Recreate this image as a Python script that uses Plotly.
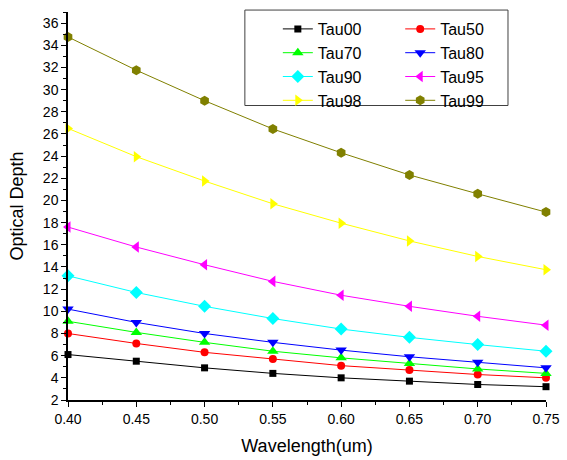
import plotly.graph_objects as go

wavelength = [0.40, 0.45, 0.50, 0.55, 0.60, 0.65, 0.70, 0.75]

tau00 = [6.1, 5.5, 4.9, 4.4, 4.0, 3.7, 3.4, 3.2]
tau50 = [8.0, 7.1, 6.3, 5.7, 5.1, 4.7, 4.3, 4.0]
tau70 = [9.1, 8.1, 7.2, 6.4, 5.8, 5.3, 4.8, 4.4]
tau80 = [10.2, 9.0, 8.0, 7.2, 6.5, 5.9, 5.4, 4.9]
tau90 = [13.2, 11.7, 10.45, 9.35, 8.4, 7.65, 7.0, 6.4]
tau95 = [17.6, 15.8, 14.2, 12.7, 11.45, 10.45, 9.55, 8.75]
tau98 = [26.5, 23.95, 21.75, 19.7, 17.95, 16.35, 14.95, 13.75]
tau99 = [34.75, 31.75, 29.0, 26.45, 24.3, 22.3, 20.6, 18.95]

series_names = ["Tau00", "Tau50", "Tau70", "Tau80", "Tau90", "Tau95", "Tau98", "Tau99"]
series_values = [tau00, tau50, tau70, tau80, tau90, tau95, tau98, tau99]
colors = ["#000000", "#FF0000", "#00FF00", "#0000FF", "#00FFFF", "#FF00FF", "#FFFF00", "#808000"]
symbols = ["square", "circle", "triangle-up", "triangle-down", "diamond",
           "triangle-left", "triangle-right", "hexagon"]
sizes = [7, 8, 10, 10, 10, 10, 10, 10]
# legend column for each series (two-column legend like the original)
legend_ids = ["legend", "legend2", "legend", "legend2", "legend", "legend2", "legend", "legend2"]

fig = go.Figure()
for name, vals, c, s, sz, lg in zip(series_names, series_values, colors, symbols, sizes, legend_ids):
    fig.add_trace(go.Scatter(
        x=wavelength, y=vals, name=name, mode="lines+markers",
        line=dict(color=c, width=1),
        marker=dict(symbol=s, size=sz, color=c, line=dict(width=0)),
        cliponaxis=False, legend=lg,
    ))

font_family = "Liberation Sans, Arial, sans-serif"
legend_common = dict(
    orientation="v", yanchor="top", xanchor="left",
    bgcolor="rgba(0,0,0,0)", borderwidth=0,
    font=dict(size=16, family=font_family, color="black"),
    tracegroupgap=0,
)
fig.update_layout(
    width=567, height=460,
    margin=dict(l=68, r=21, t=12, b=60, autoexpand=False),
    paper_bgcolor="white", plot_bgcolor="white",
    font=dict(family=font_family, color="black", size=14),
    showlegend=True,
    legend=dict(x=0.439, y=1.0, **legend_common),
    legend2=dict(x=0.695, y=1.0, **legend_common),
    shapes=[dict(
        type="rect", xref="paper", yref="paper",
        x0=0.370, x1=0.9205, y0=0.759, y1=1.005,
        line=dict(color="#404040", width=1), fillcolor="white", layer="above",
    )],
    xaxis=dict(
        range=[0.40, 0.75], dtick=0.05, tick0=0.40, tickformat=".2f",
        showgrid=False, zeroline=False, showline=True, linecolor="black", linewidth=1.5,
        ticks="outside", ticklen=5, tickwidth=1.2, tickcolor="black",
        minor=dict(dtick=0.025, ticks="outside", ticklen=3, tickwidth=1, tickcolor="black"),
        tickfont=dict(size=14), automargin=False,
        title=dict(text="Wavelength(um)", font=dict(size=18), standoff=14),
    ),
    yaxis=dict(
        range=[2, 37], dtick=2, tick0=2,
        showgrid=False, zeroline=False, showline=True, linecolor="black", linewidth=1.5,
        ticks="outside", ticklen=5, tickwidth=1.2, tickcolor="black",
        minor=dict(dtick=1, ticks="outside", ticklen=3, tickwidth=1, tickcolor="black"),
        tickfont=dict(size=14), automargin=False,
        title=dict(text="Optical Depth", font=dict(size=18), standoff=15),
    ),
)

fig.write_html("out.html", post_script="document.body.style.margin='0';",
               config={"displayModeBar": False})
